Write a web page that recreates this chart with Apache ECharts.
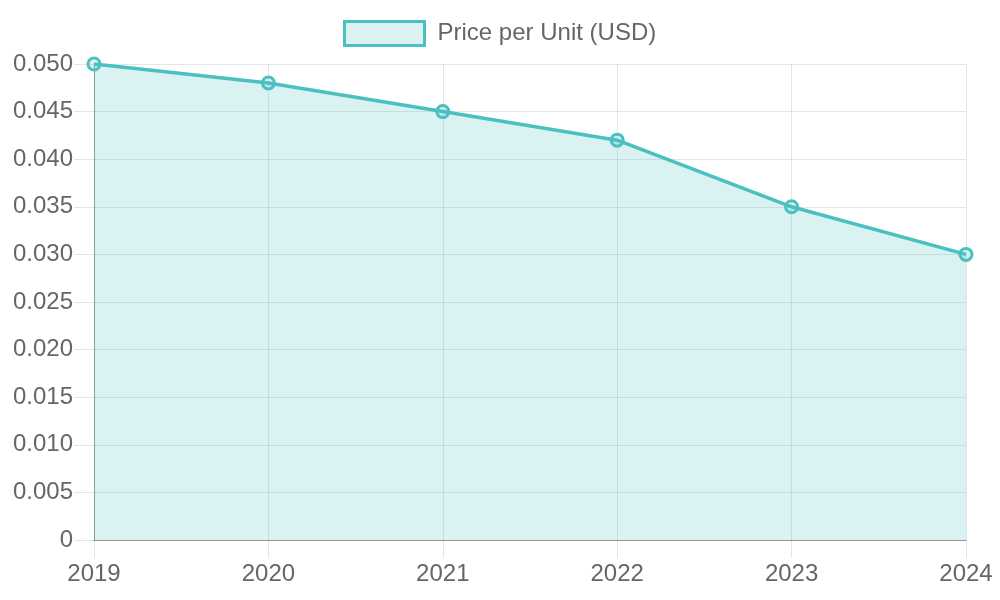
<!DOCTYPE html>
<html>
<head>
<meta charset="utf-8">
<script src="https://cdn.jsdelivr.net/npm/echarts@6/dist/echarts.min.js"></script>
<style>
  html, body { margin: 0; padding: 0; background: #fff; }
  #chart { width: 1000px; height: 600px; }
</style>
</head>
<body>
<div id="chart"></div>
<script>
const years = ['2019', '2020', '2021', '2022', '2023', '2024']
const pricePerUnit = [0.05, 0.048, 0.045, 0.042, 0.035, 0.03]
const seriesName = 'Price per Unit (USD)'

const teal = 'rgb(75, 192, 192)'
const tealFill = 'rgba(75, 192, 192, 0.2)'
const gridColor = 'rgba(0, 0, 0, 0.1)'
const axisColor = 'rgba(0, 0, 0, 0.35)'
const font = 'Liberation Sans, Arial, sans-serif'

const chart = echarts.init(document.getElementById('chart'))

chart.setOption({
  animation: false,
  textStyle: { fontFamily: font },
  legend: {
    top: 20,
    left: 343,
    padding: 0,
    itemWidth: 80,
    itemHeight: 24,
    data: [{
      name: seriesName,
      icon: 'rect',
      itemStyle: { color: tealFill, borderColor: teal, borderWidth: 3 }
    }],
    textStyle: { color: '#666', fontSize: 24, fontFamily: font, padding: [0, 0, 0, 8] }
  },
  grid: { left: 94, right: 34, top: 64, bottom: 60 },
  xAxis: {
    type: 'category',
    data: years,
    boundaryGap: false,
    axisLine: { lineStyle: { color: axisColor, width: 1 } },
    axisTick: { show: true, length: 18, alignWithLabel: true, lineStyle: { color: gridColor } },
    axisLabel: { color: '#666', fontSize: 24, margin: 22, fontFamily: font },
    splitLine: { show: true, lineStyle: { color: gridColor } }
  },
  yAxis: {
    type: 'value',
    min: 0,
    max: 0.05,
    interval: 0.005,
    axisLine: { show: true, lineStyle: { color: axisColor, width: 1 } },
    axisTick: { show: true, length: 20, lineStyle: { color: gridColor } },
    axisLabel: {
      color: '#666',
      fontSize: 24,
      margin: 21,
      fontFamily: font,
      formatter: v => (v === 0 ? '0' : v.toFixed(3))
    },
    splitLine: { show: true, lineStyle: { color: gridColor } }
  },
  series: [{
    name: seriesName,
    type: 'line',
    data: pricePerUnit,
    symbol: 'circle',
    symbolSize: 12,
    showAllSymbol: true,
    lineStyle: { color: teal, width: 3.5 },
    itemStyle: { color: tealFill, borderColor: teal, borderWidth: 3 },
    areaStyle: { color: tealFill, opacity: 1, origin: 'start' }
  }]
})
</script>
</body>
</html>
